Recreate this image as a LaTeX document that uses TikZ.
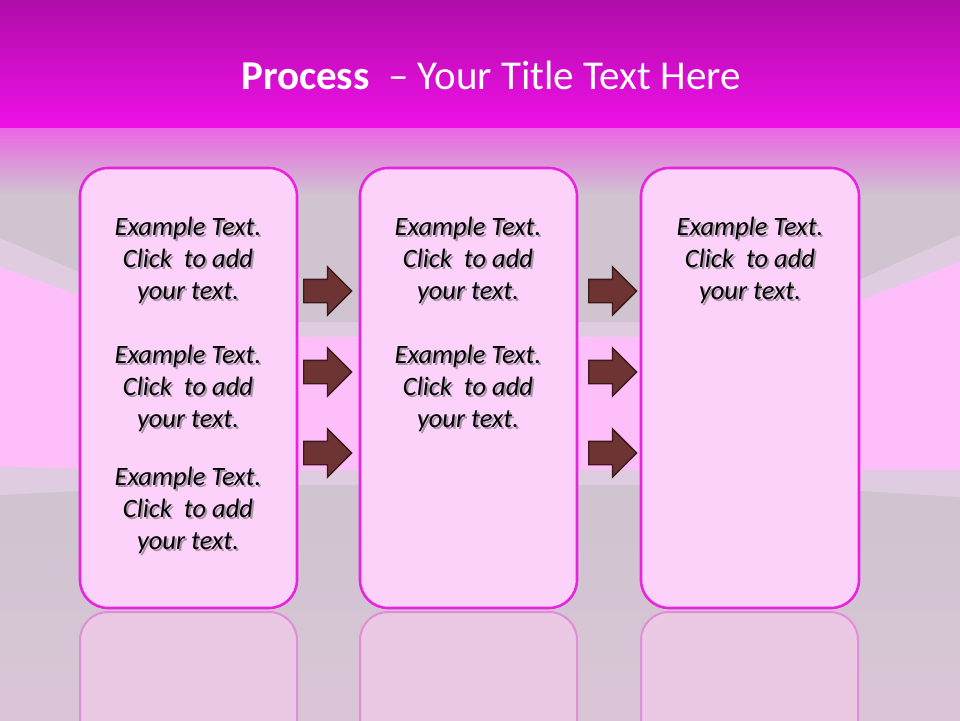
\documentclass[tikz,border=0pt]{standalone}
\usepackage{fontspec}
\setmainfont{Carlito}
\usetikzlibrary{shapes.arrows}
\definecolor{topA}{HTML}{B00CA8}
\definecolor{topB}{HTML}{EE10E6}
\definecolor{fadeA}{HTML}{EC62E4}
\definecolor{wallgrey}{HTML}{CFC4D0}
\definecolor{floorgrey}{HTML}{DAC5D6}
\definecolor{trim}{HTML}{E0CCE0}
\definecolor{wallpink}{HTML}{FDBEFA}
\definecolor{boxfill}{HTML}{FCD2FA}
\definecolor{boxline}{HTML}{E824DE}
\definecolor{reflfill}{HTML}{EBC8E3}
\definecolor{reflline}{HTML}{E08EDA}
\definecolor{arrowfill}{HTML}{6E3434}
\definecolor{arrowline}{HTML}{3A181C}
\definecolor{shadowcol}{HTML}{A493A2}
\tikzset{
  stepbox/.style={draw=boxline, line width=2.6pt, fill=boxfill, rounded corners=28pt},
  reflbox/.style={draw=reflline, line width=2pt, fill=reflfill, rounded corners=28pt},
  blockarrow/.style={single arrow, draw=arrowline, fill=arrowfill, line width=1.4pt,
     minimum height=48pt, minimum width=47pt, single arrow head extend=12.5pt,
     single arrow tip angle=90, inner xsep=0pt, inner ysep=11pt,
     text height=0pt, text depth=0pt, anchor=tail},
  bodytext/.style={font=\fontsize{26.5}{32}\selectfont\itshape, text=black, inner sep=0pt}
}
\newcommand{\extxt}{\begin{tabular}{@{}c@{}}Example Text.\\Click\ \ to add\\your text.\end{tabular}}
\newcommand{\shadowed}{\makebox[0pt][l]{\hspace{2pt}\raisebox{-2.5pt}{\color{shadowcol}\extxt}}\extxt}
\begin{document}
\begin{tikzpicture}[x=1pt,y=-1pt]
\useasboundingbox (0,0) rectangle (960,720);
% background
\fill[wallgrey] (0,0) rectangle (960,720);
\shade[top color=wallgrey, bottom color=floorgrey] (0,500) rectangle (960,720);
\fill[trim] (0,238) -- (195,322) -- (765,322) -- (960,235) -- (960,497) -- (765,485) -- (195,485) -- (0,495) -- cycle;
\fill[wallpink] (0,267) -- (195,337) -- (765,337) -- (960,262) -- (960,470) -- (765,470) -- (195,470) -- (0,467) -- cycle;
\shade[top color=fadeA, bottom color=wallgrey] (0,126) rectangle (960,196);
\shade[top color=topA, bottom color=topB] (0,0) rectangle (960,127);
% title
\node[text=white, font=\fontsize{41}{46}\selectfont, inner sep=0pt] (title) at (491,75) {\textbf{Process}\ \ – Your Title Text Here};
% reflections
\foreach \x in {80,360,641}{
  \draw[reflbox] (\x,612) rectangle ++(217,440);
}
% boxes
\draw[stepbox] (80,168) rectangle (297,608);
\draw[stepbox] (360,168) rectangle (577,608);
\draw[stepbox] (641,168) rectangle (859,608);
% texts
\foreach \cx/\cy/\n in {188/262/a1,188/390/a2,188/512/a3,468/262/b1,468/390/b2,750/262/c1}{
  \node[bodytext] (t\n) at (\cx,\cy) {\shadowed};
}
% arrows
\foreach \ax/\c in {303/a,588/b}{
  \node[blockarrow] (arr\c1) at (\ax,291) {};
  \node[blockarrow] (arr\c2) at (\ax,372) {};
  \node[blockarrow] (arr\c3) at (\ax,453) {};
}
\end{tikzpicture}
\end{document}
